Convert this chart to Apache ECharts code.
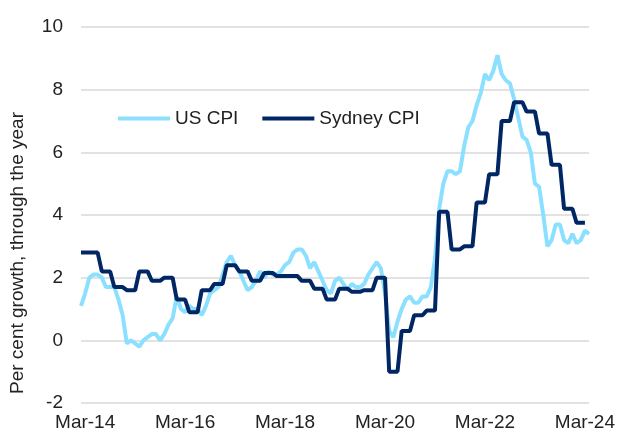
<!DOCTYPE html>
<html>
<head>
<meta charset="utf-8">
<script src="https://cdn.jsdelivr.net/npm/echarts@6/dist/echarts.min.js"></script>
<style>
  html, body { margin: 0; padding: 0; background: #fff; }
  #chart { width: 618px; height: 433px; }
</style>
</head>
<body>
<div id="chart"></div>
<script>
// monthly categories, Feb-14 to Apr-24
var monthNames = ['Jan', 'Feb', 'Mar', 'Apr', 'May', 'Jun', 'Jul', 'Aug', 'Sep', 'Oct', 'Nov', 'Dec'];
var months = [];
for (var yr = 14; yr <= 24; yr++) {
    for (var m = 0; m < 12; m++) {
        if (yr === 14 && m < 1) continue;
        if (yr === 24 && m > 3) continue;
        months.push(monthNames[m] + '-' + yr);
    }
}

var xLabels = ['Mar-14', 'Mar-16', 'Mar-18', 'Mar-20', 'Mar-22', 'Mar-24'];

// US CPI, monthly, Feb-14 .. Apr-24
var usCpi = [
    1.1, 1.5, 2.0, 2.1, 2.1, 2.0, 1.7, 1.7, 1.7, 1.3, 0.8,
    -0.1, 0.0, -0.1, -0.2, 0.0, 0.1, 0.2, 0.2, 0.0, 0.2, 0.5, 0.7,
    1.4, 1.0, 0.9, 1.1, 1.0, 1.0, 0.8, 1.1, 1.5, 1.6, 1.7, 2.1,
    2.5, 2.7, 2.4, 2.2, 1.9, 1.6, 1.7, 1.9, 2.2, 2.0, 2.2, 2.1,
    2.1, 2.2, 2.4, 2.5, 2.8, 2.9, 2.9, 2.7, 2.3, 2.5, 2.2, 1.9,
    1.6, 1.5, 1.9, 2.0, 1.8, 1.6, 1.8, 1.7, 1.7, 1.8, 2.1, 2.3,
    2.5, 2.3, 1.5, 0.3, 0.1, 0.6, 1.0, 1.3, 1.4, 1.2, 1.2, 1.4,
    1.4, 1.7, 2.6, 4.2, 5.0, 5.4, 5.4, 5.3, 5.4, 6.2, 6.8, 7.0,
    7.5, 7.9, 8.5, 8.3, 8.6, 9.1, 8.5, 8.3, 8.2, 7.7, 7.1, 6.5,
    6.4, 6.0, 5.0, 4.9, 4.0, 3.0, 3.2, 3.7, 3.7, 3.2, 3.1, 3.4,
    3.1, 3.2, 3.5, 3.4
];

// Sydney CPI, quarterly, Mar-14 .. Mar-24
var sydneyCpiQ = [
    2.8, 2.8, 2.2, 1.7, 1.6, 2.2, 1.9, 2.0, 1.3, 0.9, 1.6, 1.8,
    2.4, 2.2, 1.9, 2.15, 2.05, 2.05, 1.9, 1.65, 1.3, 1.65, 1.55, 1.6,
    2.0, -1.0, 0.3, 0.8, 0.95, 4.1, 2.9, 3.0, 4.4, 5.3, 7.0, 7.6,
    7.3, 6.6, 5.6, 4.2, 3.75
];

// each quarter's value is held over the months of that quarter
var sydneyCpi = months.map(function (mo, i) {
    var q = sydneyCpiQ[Math.floor((i + 1) / 3)];
    return q === undefined ? null : q;
});

var chart = echarts.init(document.getElementById('chart'));

var font = 'Liberation Sans';

option = {
    animation: false,
    grid: {
        left: 81,
        right: 28,
        top: 27,
        bottom: 30
    },
    legend: {
        left: 113,
        top: 104,
        icon: 'rect',
        itemWidth: 52,
        itemHeight: 4,
        itemGap: 24,
        textStyle: {
            fontFamily: font,
            fontSize: 19,
            color: '#222'
        },
        data: ['US CPI', 'Sydney CPI']
    },
    xAxis: {
        type: 'category',
        boundaryGap: false,
        data: months,
        axisLine: { show: false },
        axisTick: { show: false },
        axisLabel: {
            interval: function (idx, val) {
                return xLabels.indexOf(val) >= 0;
            },
            margin: 10,
            fontFamily: font,
            fontSize: 19,
            color: '#222'
        }
    },
    yAxis: {
        type: 'value',
        min: -2,
        max: 10,
        interval: 2,
        name: 'Per cent growth, through the year',
        nameLocation: 'middle',
        nameGap: 54,
        nameTextStyle: {
            fontFamily: font,
            fontSize: 19,
            color: '#222',
            padding: [0, 76, 0, 0]
        },
        axisLine: { show: false },
        axisTick: { show: false },
        axisLabel: {
            margin: 18,
            fontFamily: font,
            fontSize: 19,
            color: '#222'
        },
        splitLine: {
            lineStyle: { color: '#d9d9d9', width: 1.5 }
        }
    },
    series: [
        {
            name: 'US CPI',
            type: 'line',
            data: usCpi,
            symbol: 'none',
            itemStyle: { color: '#8ce0ff' },
            lineStyle: { color: '#8ce0ff', width: 4 }
        },
        {
            name: 'Sydney CPI',
            type: 'line',
            data: sydneyCpi,
            symbol: 'none',
            itemStyle: { color: '#002664' },
            lineStyle: { color: '#002664', width: 4 }
        }
    ]
};
chart.setOption(option);
</script>
</body>
</html>
